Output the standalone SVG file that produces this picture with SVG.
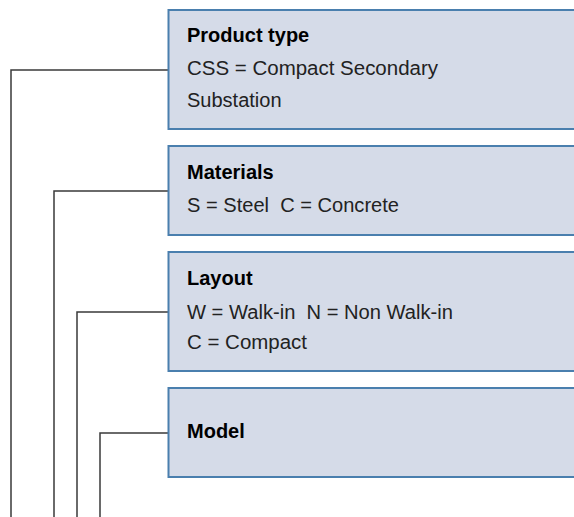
<svg xmlns="http://www.w3.org/2000/svg" width="574" height="517" viewBox="0 0 574 517">
<style>
.box{fill:#d5dbe8;stroke:#4a7fae;stroke-width:2}
.t{font-family:"Liberation Sans",Arial,sans-serif;font-size:20px;fill:#222}
.b{font-weight:bold;fill:#000}
.c{fill:none;stroke:#3a3a3a;stroke-width:1.5}
</style>
<rect width="574" height="517" fill="#fff"/>
<g id="connectors">
<polyline class="c" points="168,70 11,70 11,517"/>
<polyline class="c" points="168,191 54,191 54,517"/>
<polyline class="c" points="168,312 77,312 77,517"/>
<polyline class="c" points="168,433 100,433 100,517"/>
</g>
<g id="product-type">
<rect class="box" x="168.5" y="10" width="410" height="119"/>
<text class="t b" x="187" y="42">Product type</text>
<text class="t" x="187" y="75" textLength="251" lengthAdjust="spacingAndGlyphs">CSS = Compact Secondary</text>
<text class="t" x="187" y="106.5">Substation</text>
</g>
<g id="materials">
<rect class="box" x="168.5" y="146" width="410" height="89"/>
<text class="t b" x="187" y="178.5">Materials</text>
<text class="t" x="187" y="211.5" textLength="212" lengthAdjust="spacingAndGlyphs" xml:space="preserve">S = Steel  C = Concrete</text>
</g>
<g id="layout">
<rect class="box" x="168.5" y="252" width="410" height="119"/>
<text class="t b" x="187" y="285">Layout</text>
<text class="t" x="187" y="318.5" textLength="266" lengthAdjust="spacingAndGlyphs" xml:space="preserve">W = Walk-in  N = Non Walk-in</text>
<text class="t" x="187" y="348.5" textLength="120" lengthAdjust="spacingAndGlyphs">C = Compact</text>
</g>
<g id="model">
<rect class="box" x="168.5" y="388" width="410" height="89"/>
<text class="t b" x="187" y="438">Model</text>
</g>
</svg>
